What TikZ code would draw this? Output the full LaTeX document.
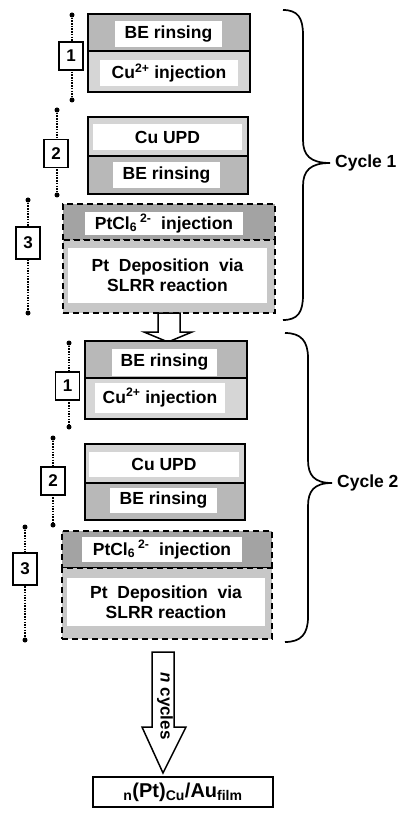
\documentclass[tikz,border=0pt]{standalone}
\usepackage{fontspec}
\setmainfont{Liberation Sans}
\definecolor{gBE}{gray}{0.72}
\definecolor{gCu}{gray}{0.84}
\definecolor{gUPD}{gray}{0.83}
\definecolor{gPt}{gray}{0.64}
\definecolor{gDep}{gray}{0.78}
\begin{document}
\begin{tikzpicture}[x=1pt,y=-1pt,
 row/.style={draw, line width=1.8pt, inner sep=0pt},
 drow/.style={draw, line width=2.4pt, dash pattern=on 6pt off 4pt, inner sep=0pt},
 wbox/.style={fill=white, inner sep=0pt, font=\bfseries\fontsize{17.5}{20}\selectfont, align=center},
 lab/.style={draw, line width=1.8pt, fill=white, inner sep=0pt, minimum width=24pt, minimum height=28pt, font=\bfseries\fontsize{17}{19}\selectfont},
 dline/.style={line width=2pt, dash pattern=on 1.5pt off 1.2pt},
 enddot/.style={fill=black, circle, inner sep=0pt, minimum size=5pt},
 cyc/.style={font=\bfseries\fontsize{17.5}{20}\selectfont, anchor=west, inner sep=0pt},
 brace/.style={line width=1.7pt},
 barrow/.style={draw, line width=1.5pt, fill=white}
]
\useasboundingbox (0,0) rectangle (410,818);

% ---------- Cycle 1 ----------
% block A
\node[row, fill=gBE, minimum width=162pt, minimum height=37pt] (a1t) at (169,32.5) {};
\node[row, fill=gCu, minimum width=162pt, minimum height=41pt] (a1b) at (169,71.5) {};
\node[wbox, minimum width=107pt, minimum height=26pt] (a1tt) at (168.5,34) {BE rinsing};
\node[wbox, minimum width=138pt, minimum height=26pt] (a1bt) at (169,73) {Cu\textsuperscript{2+} injection};
% block B
\node[row, fill=gUPD, minimum width=160pt, minimum height=39pt] (b1t) at (168,136.5) {};
\node[row, fill=gBE, minimum width=160pt, minimum height=38pt] (b1b) at (168,175) {};
\node[wbox, minimum width=149pt, minimum height=26pt] (b1tt) at (167.5,137) {Cu UPD};
\node[wbox, minimum width=107pt, minimum height=26pt] (b1bt) at (166.5,175.5) {BE rinsing};
% block C
\node[drow, fill=gPt, minimum width=212pt, minimum height=36pt] (c1t) at (169,222) {};
\node[drow, fill=gDep, minimum width=212pt, minimum height=73pt] (c1b) at (169,276.5) {};
\node[wbox, minimum width=158pt, minimum height=23pt] (c1tt) at (164,223.5) {PtCl\textsubscript{6}\,\textsuperscript{2-}\ \ injection};
\node[wbox, minimum width=199pt, minimum height=55pt] (c1bt) at (167.5,275.5) {Pt\ \ Deposition\ \ via\\SLRR reaction};

% labels cycle 1
\coordinate (l1a) at (72,15); \coordinate (l1b) at (72,100);
\draw[dline] (l1a) -- (l1b);
\node[enddot] at (l1a) {}; \node[enddot] at (l1b) {};
\node[lab] (n11) at (71,56) {1};
\coordinate (l2a) at (57,110); \coordinate (l2b) at (57,195);
\draw[dline] (l2a) -- (l2b);
\node[enddot] at (l2a) {}; \node[enddot] at (l2b) {};
\node[lab] (n12) at (56,153.5) {2};
\coordinate (l3a) at (28,200); \coordinate (l3b) at (28,313);
\draw[dline] (l3a) -- (l3b);
\node[enddot] at (l3a) {}; \node[enddot] at (l3b) {};
\node[lab, minimum height=32pt] (n13) at (28,243) {3};

% brace cycle 1
\draw[brace] (283,10) .. controls (298,10) and (303,18) .. (303,35) -- (303,140)
  .. controls (303,155) and (310,163) .. (330,163)
  .. controls (310,163) and (303,171) .. (303,186) -- (303,295)
  .. controls (303,312) and (298,320) .. (283,320);
\node[cyc] (cy1) at (335,163) {Cycle 1};

% arrow between cycles
\draw[barrow] (158,313) -- (180,313) -- (180,332) -- (192,332) -- (168,342) -- (144,332) -- (158,332) -- cycle;

% ---------- Cycle 2 ----------
\node[row, fill=gBE, minimum width=162pt, minimum height=37pt] (a2t) at (166,359.5) {};
\node[row, fill=gCu, minimum width=162pt, minimum height=41pt] (a2b) at (166,398.5) {};
\node[wbox, minimum width=105pt, minimum height=27pt] (a2tt) at (164.5,362) {BE rinsing};
\node[wbox, minimum width=130pt, minimum height=30pt] (a2bt) at (160,397.5) {Cu\textsuperscript{2+} injection};
\node[row, fill=gUPD, minimum width=160pt, minimum height=39pt] (b2t) at (165,463.5) {};
\node[row, fill=gBE, minimum width=160pt, minimum height=37pt] (b2b) at (165,501.5) {};
\node[wbox, minimum width=150pt, minimum height=25pt] (b2tt) at (164,464.5) {Cu UPD};
\node[wbox, minimum width=107pt, minimum height=25pt] (b2bt) at (163.5,500.5) {BE rinsing};
\node[drow, fill=gPt, minimum width=210pt, minimum height=37pt] (c2t) at (167,549.5) {};
\node[drow, fill=gDep, minimum width=210pt, minimum height=71pt] (c2b) at (167,603.5) {};
\node[wbox, minimum width=160pt, minimum height=25pt] (c2tt) at (162,549.5) {PtCl\textsubscript{6}\,\textsuperscript{2-}\ \ injection};
\node[wbox, minimum width=198pt, minimum height=48pt] (c2bt) at (166,602) {Pt\ \ Deposition\ \ via\\SLRR reaction};

% labels cycle 2
\coordinate (m1a) at (69,343); \coordinate (m1b) at (69,427);
\draw[dline] (m1a) -- (m1b);
\node[enddot] at (m1a) {}; \node[enddot] at (m1b) {};
\node[lab] (n21) at (67.5,386) {1};
\coordinate (m2a) at (53,438); \coordinate (m2b) at (53,525);
\draw[dline] (m2a) -- (m2b);
\node[enddot] at (m2a) {}; \node[enddot] at (m2b) {};
\node[lab] (n22) at (53,481) {2};
\coordinate (m3a) at (25,527); \coordinate (m3b) at (25,640);
\draw[dline] (m3a) -- (m3b);
\node[enddot] at (m3a) {}; \node[enddot] at (m3b) {};
\node[lab, minimum height=32pt] (n23) at (25,569) {3};

% brace cycle 2
\draw[brace] (285,333) .. controls (301,333) and (308,341) .. (308,358) -- (308,460)
  .. controls (308,475) and (314,483) .. (332,483)
  .. controls (314,483) and (308,491) .. (308,506) -- (308,617)
  .. controls (308,634) and (301,642) .. (285,642);
\node[cyc] (cy2) at (337,483) {Cycle 2};

% n cycles arrow
\draw[barrow] (152,652) -- (174,652) -- (174,727) -- (186,727) -- (163,773) -- (142,727) -- (152,727) -- cycle;
\node[rotate=-90, inner sep=0pt, font=\bfseries\fontsize{17}{19}\selectfont] (ncy) at (165,706) {\textit{n} cycles};

% final box
\node[draw, line width=2pt, minimum width=180pt, minimum height=30pt, inner sep=0pt,
  font=\bfseries\fontsize{20}{22}\selectfont] (fin) at (183,792)
  {\textsubscript{n}(Pt)\textsubscript{Cu}/Au\textsubscript{film}};
\end{tikzpicture}
\end{document}
